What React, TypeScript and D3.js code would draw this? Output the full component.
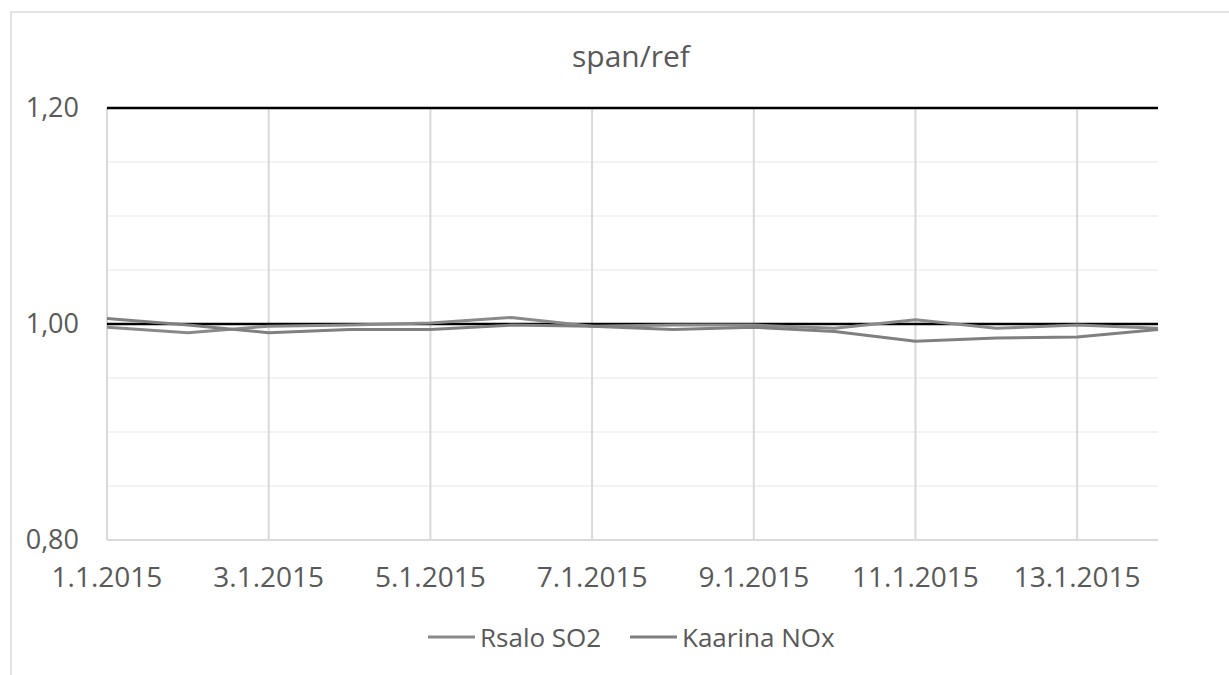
import React from 'react';
import * as d3 from 'd3';

const dates = ['1.1.2015', '2.1.2015', '3.1.2015', '4.1.2015', '5.1.2015', '6.1.2015', '7.1.2015',
  '8.1.2015', '9.1.2015', '10.1.2015', '11.1.2015', '12.1.2015', '13.1.2015', '14.1.2015'];
const rsaloSO2 = [0.997, 0.992, 0.998, 0.999, 1.001, 1.006, 0.998, 0.999, 0.999, 0.996, 1.004, 0.996, 0.999, 0.996];
const kaarinaNOx = [1.005, 0.999, 0.992, 0.995, 0.995, 0.999, 0.998, 0.995, 0.997, 0.993, 0.984, 0.987, 0.988, 0.995];
const limitLines = [1.2, 1.0];
const yTickLabels = [0.8, 1.0, 1.2];
const yGrid = d3.range(0.8, 1.2001, 0.05);
const seriesNames = ['Rsalo SO2', 'Kaarina NOx'];
const seriesColors = ['#8a8a8a', '#808080'];

const W = 1229;
const H = 675;
const left = 107;
const right = 1158;
const top = 108;
const bottom = 540;
const font = '"Open Sans", sans-serif';
const textColor = '#595959';
const gridColor = '#d9d9d9';

export default function App() {
  const x = d3.scalePoint<string>().domain(dates).range([left, right]);
  const y = d3.scaleLinear().domain([0.8, 1.2]).range([bottom, top]);
  const line = d3.line<number>()
    .x((_, i) => x(dates[i]) as number)
    .y(d => y(d));
  const fmt = (v: number) => v.toFixed(2).replace('.', ',');
  const labelled = dates.filter((_, i) => i % 2 === 0);
  const allSeries = [rsaloSO2, kaarinaNOx];

  return (
    <svg width={W} height={H} style={{ position: 'absolute', left: 0, top: 0, background: '#fff' }}>
      <rect x={11} y={12} width={W + 20} height={H + 20} fill="#fff" stroke={gridColor} strokeWidth={1.5} />
      <text x={631} y={67} textAnchor="middle" fontFamily={font} fontSize={30} fill={textColor}>span/ref</text>

      {/* horizontal gridlines */}
      {yGrid.map((v, i) => (
        <line key={'hg' + i} x1={left} x2={right} y1={y(v)} y2={y(v)} stroke="#efefef" strokeWidth={1.5} />
      ))}
      {/* vertical gridlines */}
      {labelled.slice(1).map(d => (
        <line key={'vg' + d} x1={x(d)} x2={x(d)} y1={top} y2={bottom} stroke={gridColor} strokeWidth={2} />
      ))}
      <line x1={left} x2={left} y1={top} y2={bottom} stroke={gridColor} strokeWidth={2} />
      <line x1={left} x2={right} y1={bottom} y2={bottom} stroke={gridColor} strokeWidth={2} />

      {/* limit lines */}
      {limitLines.map(v => (
        <line key={'lim' + v} x1={left} x2={right} y1={y(v)} y2={y(v)} stroke="#000" strokeWidth={2.5} />
      ))}

      {allSeries.map((s, i) => (
        <path key={'s' + i} d={line(s) || ''} fill="none" stroke={seriesColors[i]} strokeWidth={3} strokeLinejoin="round" />
      ))}

      {yTickLabels.map(v => (
        <text key={'yl' + v} x={79} y={y(v) + 9} textAnchor="end" fontFamily={font} fontSize={27} fill={textColor}>{fmt(v)}</text>
      ))}
      {labelled.map(d => (
        <text key={'xl' + d} x={x(d)} y={587} textAnchor="middle" fontFamily={font} fontSize={28} fill={textColor}>{d}</text>
      ))}

      {/* legend */}
      {seriesNames.map((n, i) => {
        const lx = i === 0 ? 428 : 630;
        return (
          <g key={'lg' + n}>
            <line x1={lx} x2={lx + 47} y1={637} y2={637} stroke={seriesColors[i]} strokeWidth={3} />
            <text x={lx + 52} y={647} fontFamily={font} fontSize={26} fill={textColor}>{n}</text>
          </g>
        );
      })}
    </svg>
  );
}
